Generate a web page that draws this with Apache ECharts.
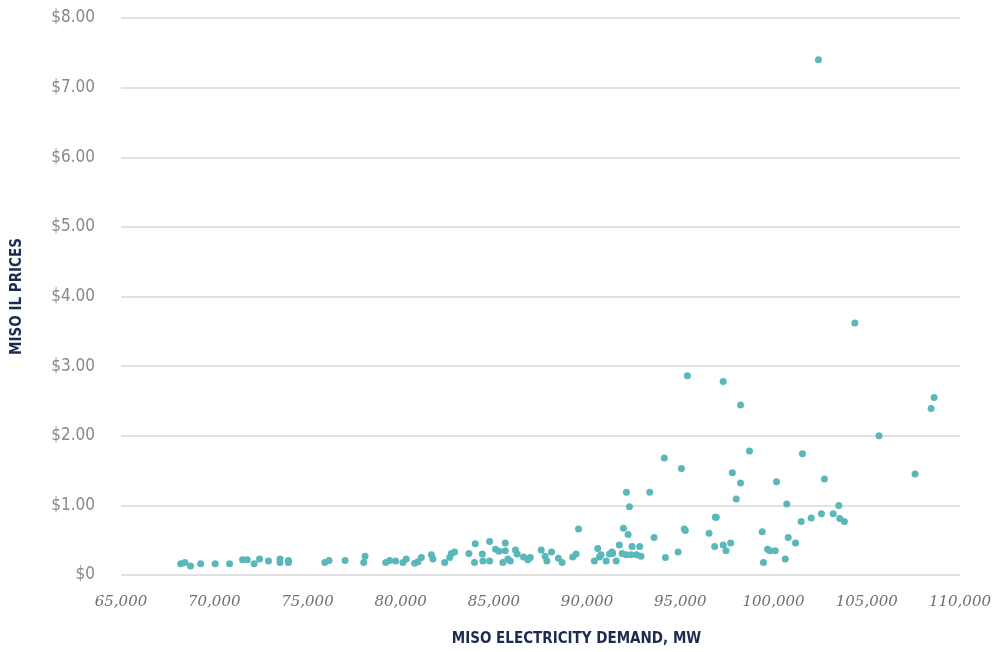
<!DOCTYPE html>
<html>
<head>
<meta charset="utf-8">
<script src="https://cdn.jsdelivr.net/npm/echarts@6/dist/echarts.min.js"></script>
<style>
  html, body { margin: 0; padding: 0; background: #fff; }
  #chart { width: 994px; height: 652px; }
</style>
</head>
<body>
<div id="chart"></div>
<script>
// demand (MW) and price ($)
var demand = [
  68200, 68430, 68730, 69270, 70050, 70820, 71520, 71770, 72140, 72430, 72910, 73530, 73530, 73980, 73980,
  75930, 76160, 77020, 78090, 78020, 79200, 79410, 79730,
  80120, 80300, 80750, 80930, 81110, 81650, 81730, 82360, 82630, 82720, 82890, 83660, 83960, 84000, 84380,
  84410, 84770, 84770, 85090, 85270, 85480, 85610, 85610, 85750, 85880, 86160, 86250, 86590, 86820, 86950,
  87540, 87750, 87840, 88090, 88460, 88660, 89230, 89410, 89540,
  90390, 90570, 90660, 90750, 91020, 91200, 91340, 91370, 91560, 91730, 91880, 91950, 92090, 92110, 92200,
  92270, 92360, 92410, 92660, 92820, 92890, 93360, 93590, 94140, 94200, 94880, 95060, 95210, 95270, 95380,
  96540, 96840, 96880, 96930, 97300, 97300, 97450, 97700, 97790, 98000, 98230, 98230, 98710, 99390, 99460,
  99680, 99800, 100090, 100160, 100630, 100710, 100790, 101180, 101480, 101550, 102020, 102410, 102570,
  102730, 103200, 103500, 103550, 103800, 104360, 105660, 107590, 108450, 108610
];
var price = [
  0.16, 0.18, 0.13, 0.16, 0.16, 0.16, 0.22, 0.22, 0.16, 0.23, 0.20, 0.23, 0.18, 0.21, 0.18,
  0.18, 0.21, 0.21, 0.27, 0.18, 0.18, 0.21, 0.20,
  0.18, 0.23, 0.17, 0.19, 0.25, 0.29, 0.23, 0.18, 0.25, 0.31, 0.33, 0.31, 0.18, 0.45, 0.30,
  0.20, 0.20, 0.48, 0.37, 0.34, 0.18, 0.46, 0.35, 0.23, 0.20, 0.36, 0.30, 0.26, 0.22, 0.25,
  0.36, 0.27, 0.20, 0.33, 0.24, 0.18, 0.26, 0.30, 0.66,
  0.20, 0.38, 0.26, 0.29, 0.20, 0.30, 0.33, 0.31, 0.20, 0.43, 0.31, 0.67, 0.29, 1.19, 0.58,
  0.98, 0.29, 0.41, 0.29, 0.41, 0.27, 1.19, 0.54, 1.68, 0.25, 0.33, 1.53, 0.66, 0.64, 2.86,
  0.60, 0.41, 0.83, 0.83, 2.78, 0.43, 0.35, 0.46, 1.47, 1.09, 2.44, 1.32, 1.78, 0.62, 0.18,
  0.37, 0.35, 0.35, 1.34, 0.23, 1.02, 0.54, 0.46, 0.77, 1.74, 0.82, 7.40, 0.88,
  1.38, 0.88, 1.00, 0.81, 0.77, 3.62, 2.00, 1.45, 2.39, 2.55
];
var xTicks = [65000, 110000, 5000];   // min, max, step
var yTicks = [0, 8, 1];

var points = demand.map(function (d, i) { return [d, price[i]]; });

var narrow = "'Liberation Sans Narrow', 'DejaVu Sans Condensed', 'DejaVu Sans', sans-serif";

var chart = echarts.init(document.getElementById('chart'));
var option = {
  animation: false,
  grid: { left: 121, right: 33, top: 18, bottom: 77 },
  xAxis: {
    type: 'value',
    min: xTicks[0],
    max: xTicks[1],
    interval: xTicks[2],
    name: 'MISO ELECTRICITY DEMAND, MW',
    nameLocation: 'middle',
    nameGap: 57,
    nameTextStyle: {
      color: '#1c2b4f',
      fontFamily: narrow,
      fontWeight: 'bold',
      fontSize: 15,
      padding: [0, 0, 0, 72]
    },
    axisLine: { show: false },
    axisTick: { show: false },
    splitLine: { show: false },
    axisLabel: {
      color: '#6f6f6f',
      fontFamily: "'DejaVu Serif', 'Liberation Serif', serif",
      fontStyle: 'italic',
      fontSize: 15,
      margin: 20,
      formatter: function (v) { return v.toLocaleString('en-US'); }
    }
  },
  yAxis: {
    type: 'value',
    min: yTicks[0],
    max: yTicks[1],
    interval: yTicks[2],
    name: 'MISO IL PRICES',
    nameLocation: 'middle',
    nameRotate: 90,
    nameGap: 96,
    nameTextStyle: {
      color: '#1c2b4f',
      fontFamily: narrow,
      fontWeight: 'bold',
      fontSize: 15
    },
    axisLine: { show: false },
    axisTick: { show: false },
    splitLine: { lineStyle: { color: '#d9d9d9', width: 1.5 } },
    axisLabel: {
      color: '#888',
      fontFamily: narrow,
      fontSize: 17,
      margin: 26,
      formatter: function (v) { return v === 0 ? '$0' : '$' + v.toFixed(2); }
    }
  },
  series: [{
    type: 'scatter',
    data: points,
    symbolSize: 7,
    itemStyle: { color: '#5ab7ba', opacity: 1 }
  }]
};
chart.setOption(option);
</script>
</body>
</html>
